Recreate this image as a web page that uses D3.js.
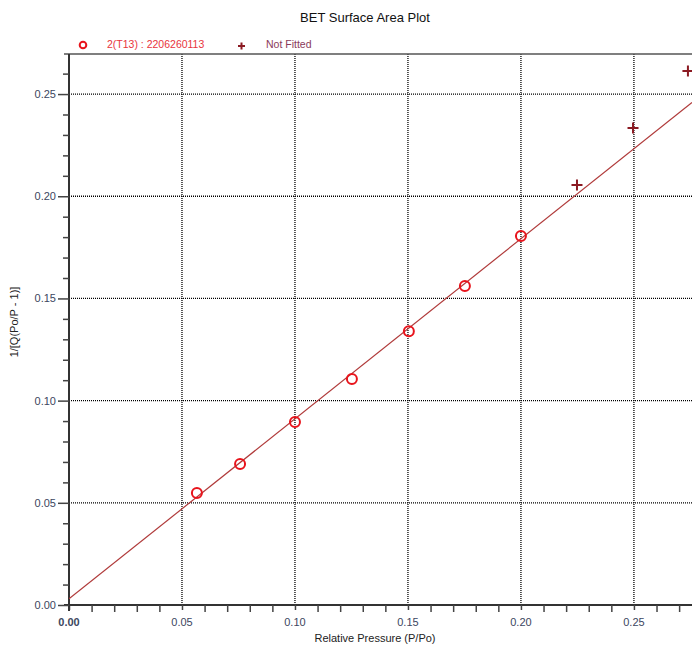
<!DOCTYPE html>
<html>
<head>
<meta charset="utf-8">
<script src="https://cdn.jsdelivr.net/npm/d3@7"></script>
<style>
  body { margin: 0; background: #fff; }
  svg { display: block; font-family: "Liberation Sans", Arial, sans-serif; }
</style>
</head>
<body>
<svg id="chart" width="692" height="648"></svg>
<script>
// fitted points (P/Po, 1/[Q(Po/P-1)])
const fittedX = [0.0566, 0.0757, 0.1000, 0.1252, 0.1504, 0.1752, 0.2000];
const fittedY = [0.0548, 0.0690, 0.0895, 0.1106, 0.1340, 0.1561, 0.1805];
// points not used in the fit
const notFittedX = [0.2248, 0.2496, 0.2739];
const notFittedY = [0.2055, 0.2334, 0.2613];
// BET line
const lineIntercept = 0.0030;
const lineSlope = 0.881;
const xTicks = [0.00, 0.05, 0.10, 0.15, 0.20, 0.25];
const yTicks = [0.00, 0.05, 0.10, 0.15, 0.20, 0.25];

const svg = d3.select('#chart');
const x = d3.scaleLinear().domain([0, 0.2757]).range([69, 692]);
const y = d3.scaleLinear().domain([0, 0.2696]).range([605, 54]);

const labelColor = '#3c4660';

// grid
svg.append('g')
    .selectAll('line')
    .data(xTicks.slice(1))
    .enter().append('line')
    .attr('x1', d => x(d)).attr('x2', d => x(d))
    .attr('y1', y.range()[1]).attr('y2', y.range()[0])
    .attr('stroke', '#000').attr('stroke-width', 1.3)
    .attr('stroke-dasharray', '1,1');
svg.append('g')
    .selectAll('line')
    .data(yTicks.slice(1))
    .enter().append('line')
    .attr('x1', x.range()[0]).attr('x2', x.range()[1])
    .attr('y1', d => y(d)).attr('y2', d => y(d))
    .attr('stroke', '#000').attr('stroke-width', 1.3)
    .attr('stroke-dasharray', '1,1');

// top frame
svg.append('line')
    .attr('x1', 64).attr('x2', 692)
    .attr('y1', y.range()[1]).attr('y2', y.range()[1])
    .attr('stroke', '#555').attr('stroke-width', 1.5);

// axes
const minorX = d3.range(0, 0.28, 0.01);
const minorY = d3.range(0, 0.27, 0.01);

const xAxis = svg.append('g').attr('transform', `translate(0,${y.range()[0]})`);
xAxis.call(d3.axisBottom(x).tickValues(minorX).tickSize(7).tickFormat(''));
xAxis.call(g => g.selectAll('.tick').filter(d => xTicks.some(t => Math.abs(t - d) < 1e-6)).select('line').attr('y2', 5));
xAxis.select('.domain').attr('d', `M64,0H692`).attr('stroke', '#333').attr('stroke-width', 2);
xAxis.selectAll('.tick line').attr('stroke', '#444').attr('stroke-width', 1.5);

const yAxis = svg.append('g').attr('transform', `translate(${x.range()[0]},0)`);
yAxis.call(d3.axisLeft(y).tickValues(minorY).tickSize(6).tickFormat(''));
yAxis.call(g => g.selectAll('.tick').filter(d => yTicks.some(t => Math.abs(t - d) < 1e-6)).select('line').attr('x2', -11));
yAxis.select('.domain').attr('d', `M0,${y.range()[0] + 6}V${y.range()[1]}`).attr('stroke', '#333').attr('stroke-width', 2);
yAxis.selectAll('.tick line').attr('stroke', '#444').attr('stroke-width', 1.5);

// tick labels
svg.append('g')
    .selectAll('text')
    .data(xTicks)
    .enter().append('text')
    .attr('x', d => x(d)).attr('y', 626)
    .attr('text-anchor', 'middle')
    .attr('font-size', 11).attr('fill', labelColor)
    .attr('font-weight', d => d === 0 ? 'bold' : 'normal')
    .text(d3.format('.2f'));
svg.append('g')
    .selectAll('text')
    .data(yTicks)
    .enter().append('text')
    .attr('x', 56).attr('y', d => y(d) + 4)
    .attr('text-anchor', 'end')
    .attr('font-size', 11).attr('fill', labelColor)
    .text(d3.format('.2f'));

// axis titles
svg.append('text')
    .attr('x', 375).attr('y', 642)
    .attr('text-anchor', 'middle').attr('font-size', 11).attr('fill', '#222')
    .text('Relative Pressure (P/Po)');
svg.append('text')
    .attr('transform', 'translate(18,322) rotate(-90)')
    .attr('text-anchor', 'middle').attr('font-size', 11).attr('fill', '#222')
    .text('1/[Q(Po/P - 1)]');

// title
svg.append('text')
    .attr('x', 365).attr('y', 22)
    .attr('text-anchor', 'middle').attr('font-size', 13).attr('fill', '#111')
    .text('BET Surface Area Plot');

// fit line
svg.append('clipPath').attr('id', 'plotClip')
    .append('rect')
    .attr('x', x.range()[0]).attr('y', y.range()[1])
    .attr('width', x.range()[1] - x.range()[0]).attr('height', y.range()[0] - y.range()[1]);
svg.append('line')
    .attr('clip-path', 'url(#plotClip)')
    .attr('x1', x(0)).attr('y1', y(lineIntercept))
    .attr('x2', x(x.domain()[1])).attr('y2', y(lineIntercept + lineSlope * x.domain()[1]))
    .attr('stroke', '#b03a3a').attr('stroke-width', 1.2);

// fitted points
svg.append('g')
    .selectAll('circle')
    .data(fittedX.map((d, i) => [d, fittedY[i]]))
    .enter().append('circle')
    .attr('cx', d => x(d[0])).attr('cy', d => y(d[1]))
    .attr('r', 5)
    .attr('fill', 'none').attr('stroke', '#e8141c').attr('stroke-width', 2);

// not fitted points
svg.append('g')
    .selectAll('path')
    .data(notFittedX.map((d, i) => [d, notFittedY[i]]))
    .enter().append('path')
    .attr('d', 'M-5.5,0H5.5M0,-5.5V5.5')
    .attr('transform', d => `translate(${x(d[0])},${y(d[1])})`)
    .attr('stroke', '#8b1a22').attr('stroke-width', 2).attr('fill', 'none');

// legend
svg.append('circle')
    .attr('cx', 83).attr('cy', 45).attr('r', 3.3)
    .attr('fill', 'none').attr('stroke', '#e8141c').attr('stroke-width', 2);
svg.append('text')
    .attr('x', 107).attr('y', 48)
    .attr('font-size', 10.5).attr('fill', '#e8343c')
    .text('2(T13) : 2206260113');
svg.append('path')
    .attr('d', 'M238,46H245M241.5,42.5V49.5')
    .attr('stroke', '#8b1a22').attr('stroke-width', 2);
svg.append('text')
    .attr('x', 266).attr('y', 48)
    .attr('font-size', 10.5).attr('fill', '#8a3a5a')
    .text('Not Fitted');
</script>
</body>
</html>
